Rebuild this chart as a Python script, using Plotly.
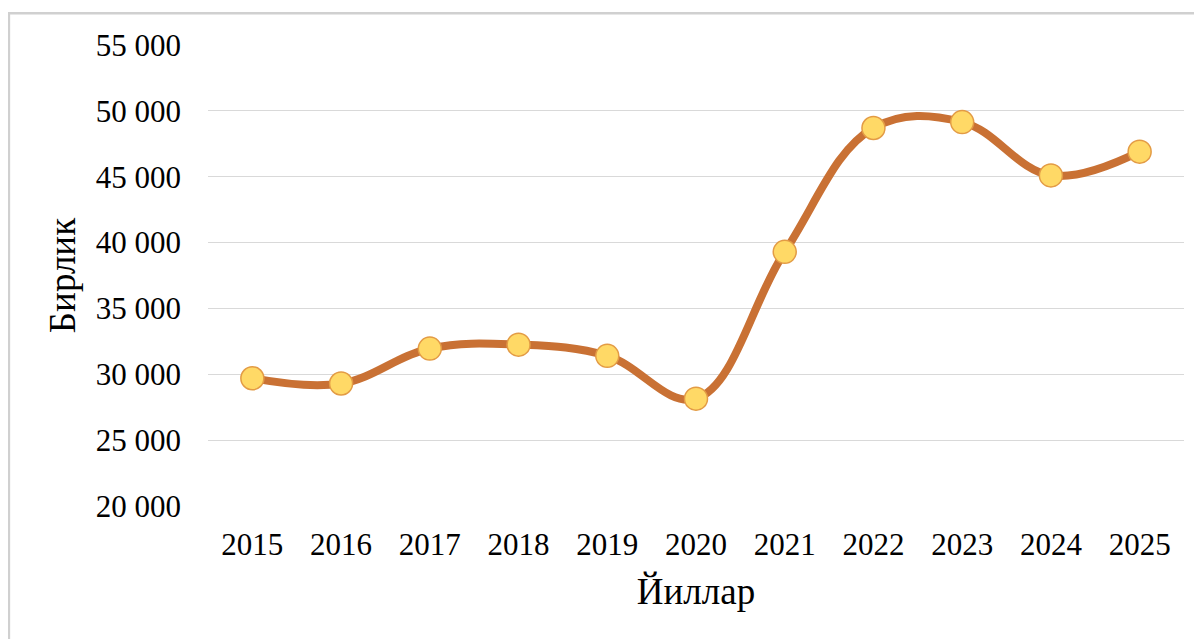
"""Yearly units line chart (Бирлик by Йиллар), smoothed line with round markers."""
import plotly.graph_objects as go

years = ["2015", "2016", "2017", "2018", "2019", "2020",
         "2021", "2022", "2023", "2024", "2025"]
units = [29700, 29300, 31950, 32250, 31400, 28150,
         39300, 48700, 49150, 45100, 46900]
y_ticks = [20000, 25000, 30000, 35000, 40000, 45000, 50000, 55000]

FONT = "Liberation Serif, Times New Roman, serif"

fig = go.Figure()

fig.add_trace(go.Scatter(
    x=years,
    y=units,
    mode="lines+markers",
    line={"color": "#C97134", "width": 8, "shape": "spline", "smoothing": 1.1},
    marker={
        "size": 23,
        "color": "#FFD966",
        "line": {"color": "#E39B45", "width": 1.5},
    },
    showlegend=False,
    hoverinfo="x+y",
))

# page body has an 8px margin, so the figure is 8px smaller and margins shifted
fig.update_layout(
    width=1194,
    height=631,
    margin={"l": 200, "r": 18, "t": 37, "b": 133},
    paper_bgcolor="white",
    plot_bgcolor="white",
    font={"family": FONT, "size": 31, "color": "#000000"},
    separators=". ",
    shapes=[{
        "type": "rect",
        "xref": "paper", "yref": "paper",
        "x0": -0.204, "x1": 1.05,
        "y0": -0.35, "y1": 1.069,
        "line": {"color": "#D0D0D0", "width": 2.5},
        "fillcolor": "rgba(0,0,0,0)",
        "layer": "below",
    }],
)

fig.update_xaxes(
    type="category",
    range=[-0.5, len(years) - 0.5],
    showgrid=False,
    showline=False,
    zeroline=False,
    ticks="",
    ticklabelstandoff=17,
    tickfont={"family": FONT, "size": 31},
    title={"text": "Йиллар", "font": {"family": FONT, "size": 37}, "standoff": 17},
)

fig.update_yaxes(
    range=[20000, 55000],
    tickvals=y_ticks,
    tickformat=",d",
    showgrid=True,
    gridcolor="#D9D9D9",
    gridwidth=1.3,
    zeroline=False,
    showline=False,
    ticks="",
    ticklabelstandoff=26,
    tickfont={"family": FONT, "size": 31},
    title={"text": "Бирлик", "font": {"family": FONT, "size": 37}, "standoff": 8},
)

fig.write_html("out.html")
